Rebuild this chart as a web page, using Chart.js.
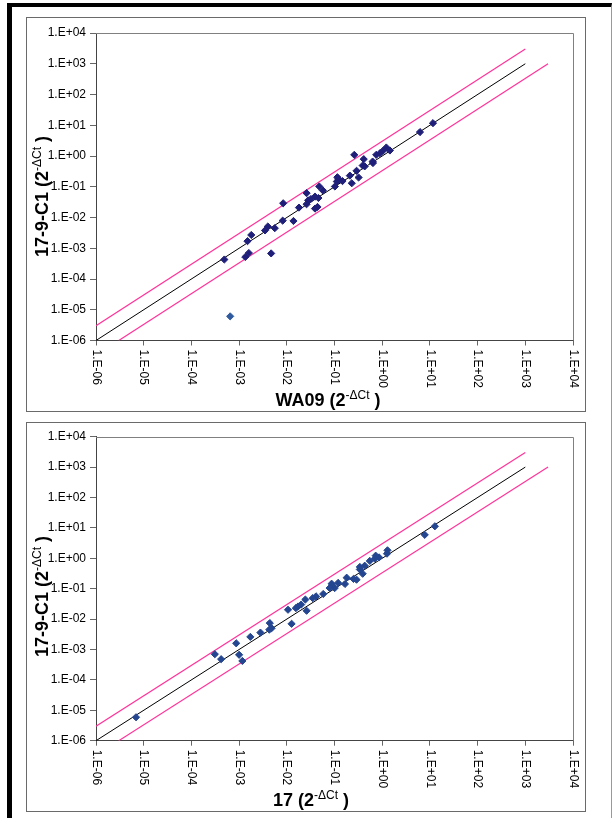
<!DOCTYPE html>
<html>
<head>
<meta charset="utf-8">
<script src="https://cdn.jsdelivr.net/npm/chart.js@4/dist/chart.umd.min.js"></script>
<style>
  html, body { margin:0; padding:0; background:#fff; }
  body { width:613px; height:818px; position:relative; overflow:hidden; font-family:"Liberation Sans", Arial, sans-serif; }
  #frame { position:absolute; left:7px; top:3px; width:599px; height:900px; border-left:5px solid #000; border-top:4px solid #000; border-right:1px solid #999; }
  .panel { position:absolute; left:26px; width:558px; border:1px solid #6a6a6a; background:#fff; }
  #p1 { top:17px; height:393px; }
  #p2 { top:422px; height:388px; }
  canvas { display:block; }
</style>
</head>
<body>
<div id="frame"></div>
<div class="panel" id="p1"><canvas id="c1" width="558" height="393"></canvas></div>
<div class="panel" id="p2"><canvas id="c2" width="558" height="388"></canvas></div>
<script>
// ---- tick values and labels ----
const tickValues = [1e-6,1e-5,1e-4,1e-3,1e-2,1e-1,1e0,1e1,1e2,1e3,1e4];
const tickLabels = ['1.E-06','1.E-05','1.E-04','1.E-03','1.E-02','1.E-01','1.E+00','1.E+01','1.E+02','1.E+03','1.E+04'];

// ---- reference lines (y = x, y = 3x, y = x/3) ----
const idLineX = [1e-6, 1e3];
const idLineY = [1e-6, 1e3];
const upLineX = [1e-6, 1e3];
const upLineY = [3e-6, 3e3];
const loLineX = [3e-6, 3e3];
const loLineY = [1e-6, 1e3];

// ---- panel 1: WA09 vs 17-9-C1 ----
const wa09X = [11.6, 6.2, 1.45, 1.22, 1.04, 0.90, 0.75, 0.64, 0.63, 0.41, 0.39, 0.43, 0.26, 0.29, 0.32, 0.21, 0.23, 0.147, 0.12, 0.112, 0.102, 0.115, 0.057, 0.048, 0.046, 0.044, 0.039, 0.039, 0.032, 0.028, 0.026, 0.026, 0.018, 0.0138, 0.0084, 0.0082, 0.0056, 0.0040, 0.0035, 0.0047, 0.0018, 0.0015, 0.0016, 0.00135, 0.00049];
const wa09Y = [11.7, 6.0, 1.51, 1.89, 1.48, 1.24, 1.09, 0.59, 0.66, 0.79, 0.49, 0.46, 1.09, 0.33, 0.20, 0.23, 0.13, 0.153, 0.18, 0.148, 0.102, 0.204, 0.076, 0.102, 0.043, 0.022, 0.0195, 0.048, 0.040, 0.036, 0.027, 0.062, 0.021, 0.0077, 0.029, 0.0079, 0.0045, 0.0051, 0.0038, 0.00068, 0.0027, 0.0017, 0.0007, 0.00052, 0.00043];
const wa09OutlierX = [0.00065];
const wa09OutlierY = [6.1e-6];

// ---- panel 2: 17 vs 17-9-C1 ----
const p17X = [12.7, 7.8, 1.29, 1.26, 0.86, 0.73, 0.70, 0.55, 0.43, 0.34, 0.39, 0.34, 0.29, 0.25, 0.18, 0.166, 0.119, 0.101, 0.091, 0.079, 0.087, 0.058, 0.041, 0.035, 0.026, 0.0245, 0.020, 0.0172, 0.0155, 0.0106, 0.0126, 0.0044, 0.0043, 0.0048, 0.0028, 0.00172, 0.00087, 0.0010, 0.00117, 0.00031, 0.00042, 6.9e-6];
const p17Y = [11.3, 5.9, 1.83, 1.42, 1.07, 1.22, 0.975, 0.82, 0.57, 0.52, 0.31, 0.43, 0.198, 0.21, 0.23, 0.143, 0.155, 0.105, 0.126, 0.105, 0.146, 0.067, 0.056, 0.049, 0.0188, 0.044, 0.030, 0.026, 0.023, 0.0203, 0.0070, 0.0074, 0.0045, 0.0050, 0.0036, 0.0026, 0.0016, 0.00067, 0.00042, 0.0007, 0.00048, 5.9e-6];

// ---- text ----
const yTitleParts = ['17-9-C1 (2', '-\u0394Ct', ' )'];
const xTitle1Parts = ['WA09 (2', '-\u0394Ct', ' )'];
const xTitle2Parts = ['17 (2', '-\u0394Ct', ' )'];

const FONT = '"Liberation Sans", Arial, sans-serif';
Chart.defaults.font.family = FONT;
Chart.defaults.font.size = 12;
Chart.defaults.color = '#000';

const pts = (xs, ys) => xs.map((x, i) => ({x, y: ys[i]}));

function richParts(parts) {
  return [
    {t: parts[0], font: 'bold 18px ' + FONT, rise: 0},
    {t: parts[1], font: '12px ' + FONT, rise: 7},
    {t: parts[2], font: 'bold 18px ' + FONT, rise: 0}
  ];
}
function drawRich(ctx, parts, x0, y0) {
  let x = x0;
  parts.forEach(p => {
    ctx.font = p.font;
    ctx.fillText(p.t, x, y0 - p.rise);
    x += ctx.measureText(p.t).width;
  });
}
function richWidth(ctx, parts) {
  let w = 0;
  parts.forEach(p => { ctx.font = p.font; w += ctx.measureText(p.t).width; });
  return w;
}

const decorPlugin = {
  id: 'decor',
  afterDraw(chart, args, opts) {
    const {ctx, chartArea: a} = chart;
    const xs = chart.scales.x;
    ctx.save();
    // top & right plot border
    ctx.strokeStyle = '#808080';
    ctx.lineWidth = 1;
    ctx.beginPath();
    ctx.moveTo(a.left, Math.round(a.top) + 0.5);
    ctx.lineTo(Math.round(a.right) + 0.5, Math.round(a.top) + 0.5);
    ctx.lineTo(Math.round(a.right) + 0.5, a.bottom);
    ctx.stroke();
    // rotated x tick labels (clockwise)
    ctx.fillStyle = '#000';
    ctx.font = '12px ' + FONT;
    ctx.textAlign = 'left';
    ctx.textBaseline = 'middle';
    tickValues.forEach((v, i) => {
      const px = xs.getPixelForValue(v);
      ctx.save();
      ctx.translate(px, a.bottom + 9);
      ctx.rotate(Math.PI / 2);
      ctx.fillText(tickLabels[i], 0, 0);
      ctx.restore();
    });
    // titles
    ctx.textBaseline = 'alphabetic';
    const xp = richParts(opts.xTitle);
    const w = richWidth(ctx, xp);
    drawRich(ctx, xp, opts.xTitleCx - w / 2, opts.xTitleY);
    const yp = richParts(opts.yTitle);
    ctx.save();
    ctx.translate(opts.yTitleX, opts.yTitleY);
    ctx.rotate(-Math.PI / 2);
    drawRich(ctx, yp, 0, 0);
    ctx.restore();
    ctx.restore();
  }
};

function makeChart(id, data, outlier, color, outlierColor, topPad, xHeight, titleOpts) {
  const datasets = [
    {data: data, backgroundColor: color, borderColor: color, borderWidth: 1, pointStyle: 'rectRot', pointRadius: 3.6},
  ];
  if (outlier) datasets.push({data: outlier, backgroundColor: outlierColor, borderColor: outlierColor, borderWidth: 1, pointStyle: 'rectRot', pointRadius: 3.6});
  datasets.push(
    {data: pts(idLineX, idLineY), showLine: true, pointRadius: 0, borderColor: '#000', borderWidth: 1},
    {data: pts(upLineX, upLineY), showLine: true, pointRadius: 0, borderColor: '#FF3399', borderWidth: 1.2},
    {data: pts(loLineX, loLineY), showLine: true, pointRadius: 0, borderColor: '#FF3399', borderWidth: 1.2}
  );
  const setTicks = s => { s.ticks = tickValues.map(v => ({value: v})); };
  return new Chart(document.getElementById(id), {
    type: 'scatter',
    data: {datasets},
    options: {
      responsive: false,
      animation: false,
      devicePixelRatio: 1,
      layout: {padding: {left: 0, top: topPad, right: 12, bottom: 0}},
      plugins: {legend: {display: false}, tooltip: {enabled: false}, decor: titleOpts},
      scales: {
        x: {
          type: 'logarithmic', min: 1e-6, max: 1e4,
          afterBuildTicks: setTicks,
          afterFit: s => { s.height = xHeight; },
          ticks: {display: false},
          grid: {drawOnChartArea: false, color: '#666', tickLength: 5},
          border: {color: '#444'}
        },
        y: {
          type: 'logarithmic', min: 1e-6, max: 1e4,
          afterBuildTicks: setTicks,
          afterFit: s => { s.width = 69; },
          ticks: {padding: 4, autoSkip: false, color: '#000', font: {size: 12},
                  callback: (v, i) => tickLabels[i]},
          grid: {drawOnChartArea: false, color: '#666', tickLength: 6},
          border: {color: '#444'}
        }
      }
    },
    plugins: [decorPlugin]
  });
}

makeChart('c1', pts(wa09X, wa09Y), pts(wa09OutlierX, wa09OutlierY), '#1f1f7a', '#2f5a9e', 15, 70.5,
  {xTitle: xTitle1Parts, xTitleCx: 301, xTitleY: 388, yTitle: yTitleParts, yTitleX: 21, yTitleY: 239});
makeChart('c2', pts(p17X, p17Y), null, '#244590', '#244590', 13.7, 70.3,
  {xTitle: xTitle2Parts, xTitleCx: 284, xTitleY: 383, yTitle: yTitleParts, yTitleX: 21, yTitleY: 234});
</script>
</body>
</html>
